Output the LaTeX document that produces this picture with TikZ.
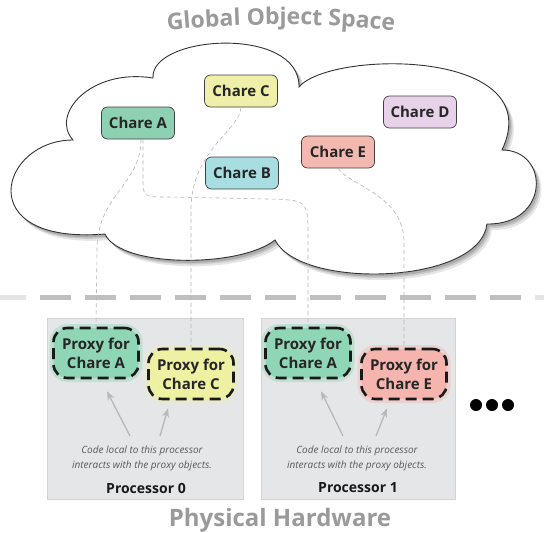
\documentclass[tikz,border=0pt]{standalone}
\usepackage{fontspec}
\setmainfont{Open Sans}
\usetikzlibrary{arrows.meta,decorations.text,calc}
\definecolor{cA}{HTML}{8ED0B2}
\definecolor{cB}{HTML}{A8DDE2}
\definecolor{cC}{HTML}{EFEFAA}
\definecolor{cD}{HTML}{E8D2EA}
\definecolor{cE}{HTML}{F3B9B1}
\definecolor{pA}{HTML}{8FD6B6}
\definecolor{pC}{HTML}{EEF0A2}
\definecolor{pE}{HTML}{F5B5AE}
\definecolor{procfill}{HTML}{E5E6E7}
\definecolor{procline}{HTML}{D2D3D4}
\definecolor{titlegray}{HTML}{9A9A9A}
\definecolor{conngray}{HTML}{B4B4B4}
\begin{document}
\begin{tikzpicture}[x=1pt,y=-1pt,
  chare/.style={draw=black!75, line width=0.7pt, rounded corners=6pt, minimum width=73pt, minimum height=32pt, inner sep=0pt, font=\fontsize{15}{17}\selectfont\bfseries, text=black!85},
  proxy/.style={draw=black!90, line width=2.6pt, dash pattern=on 11pt off 6pt, rounded corners=14pt, minimum width=85pt, minimum height=50pt, inner sep=0pt, align=center, font=\fontsize{15}{19}\selectfont\bfseries, text=black!85, fill=#1, preaction={draw=#1, line width=8pt, draw opacity=0.4, solid}},
  procbox/.style={draw=procline, fill=procfill, line width=0.8pt, minimum height=181pt, inner sep=0pt},
  conn/.style={draw=conngray, line width=0.6pt, dash pattern=on 4pt off 3pt},
  arr/.style={draw=black!28, line width=1.3pt, -{Stealth[length=9pt,width=7pt]}},
  codetext/.style={align=center, font=\fontsize{10}{15}\selectfont\itshape, text=black!65},
  proclabel/.style={font=\fontsize{14}{16}\selectfont\bfseries, text=black!90},
  dot/.style={circle, fill=black, minimum size=12pt, inner sep=0pt},
  divider/.style={line width=5pt, dash pattern=on 31pt off 14pt}
]
\useasboundingbox (0,0) rectangle (544,533);
\fill[white] (0,0) rectangle (544,533);

% title
\path[decorate, decoration={text along path, text align=center,
  text={|\fontsize{23}{23}\selectfont\bfseries\color{titlegray}|Global Object Space}}]
  (146,33) .. controls (232,22) and (330,22) .. (416,33);

% cloud
\def\cloudpath{(73,140) .. controls (50,115) and (90,68) .. (153,78)
  .. controls (150,35) and (300,25) .. (299,87)
  .. controls (330,50) and (550,48) .. (502,150)
  .. controls (550,150) and (550,225) .. (487,224)
  .. controls (480,285) and (300,290) .. (275,240)
  .. controls (240,268) and (120,268) .. (105,234)
  .. controls (-30,245) and (0,140) .. cycle}
\fill[black, opacity=0.10, shift={(5pt,-6pt)}] \cloudpath;
\fill[black, opacity=0.12, shift={(3.5pt,-4pt)}] \cloudpath;
\fill[black, opacity=0.15, shift={(2pt,-2.5pt)}] \cloudpath;
\filldraw[fill=white, draw=black!80, line width=0.9pt] \cloudpath;

% divider
\draw[divider, color=black!25, dash phase=5pt] (0,297) -- (544,297);
\draw[divider, color=white, opacity=0.6, dash phase=5pt] (0,297) -- (30,297);
\draw[divider, color=white, opacity=0.6, dash phase=5pt] (530,297) -- (544,297);

% processors
\node[procbox, minimum width=196pt] (proc0) at (145,408.5) {};
\node[procbox, minimum width=194pt] (proc1) at (358,408.5) {};

% chares
\node[chare, fill=cA] (chA) at (138,123) {Chare A};
\node[chare, fill=cC] (chC) at (241,91) {Chare C};
\node[chare, fill=cB] (chB) at (242,173) {Chare B};
\node[chare, fill=cE] (chE) at (338,152) {Chare E};
\node[chare, fill=cD] (chD) at (420,112) {Chare D};

% proxies
\node[proxy=pA] (pA0) at (96,353) {Proxy for\\Chare A};
\node[proxy=pC] (pC0) at (191,374) {Proxy for\\Chare C};
\node[proxy=pA] (pA1) at (308,353) {Proxy for\\Chare A};
\node[proxy=pE] (pE1) at (404,374) {Proxy for\\Chare E};

% connectors
\draw[conn] ([xshift=3pt]chA.south) .. controls (141,185) and (97,195) .. (97,250) -- (pA0.north);
\draw[conn] ([xshift=5pt]chA.south) -- (143,178) .. controls (143,197) .. (168,197)
  -- (268,199) .. controls (308,200) .. (308,238) -- (pA1.north);
\draw[conn] (chC.south) .. controls (240,130) and (192,150) .. (191,208) -- (pC0.north);
\draw[conn] (chE.south) .. controls (350,186) and (404,195) .. (404,242) -- (pE1.north);

% code text
\node[codetext] (code0) at (142,458) {Code local to this processor\\interacts with the proxy objects.};
\node[codetext] (code1) at (357,458) {Code local to this processor\\interacts with the proxy objects.};
\coordinate (s0a) at (130,436);
\coordinate (s0b) at (160,436);
\coordinate (s1a) at (343,436);
\coordinate (s1b) at (376,436);
\draw[arr] (s0a) -- ([shift={(11pt,-12pt)}]pA0.south);
\draw[arr] (s0b) -- ([shift={(-23pt,-8pt)}]pC0.south);
\draw[arr] (s1a) -- ([shift={(13pt,-12pt)}]pA1.south);
\draw[arr] (s1b) -- ([shift={(-17pt,-8pt)}]pE1.south);

\node[proclabel] (lab0) at (146,488) {Processor 0};
\node[proclabel] (lab1) at (358,488) {Processor 1};

% dots
\node[dot] (d1) at (476,405) {};
\node[dot] (d2) at (492,405) {};
\node[dot] (d3) at (508,405) {};

% physical hardware
\node[font=\fontsize{24}{26}\selectfont\bfseries, text=titlegray] (hw) at (280,520) {Physical Hardware};
\end{tikzpicture}
\end{document}
